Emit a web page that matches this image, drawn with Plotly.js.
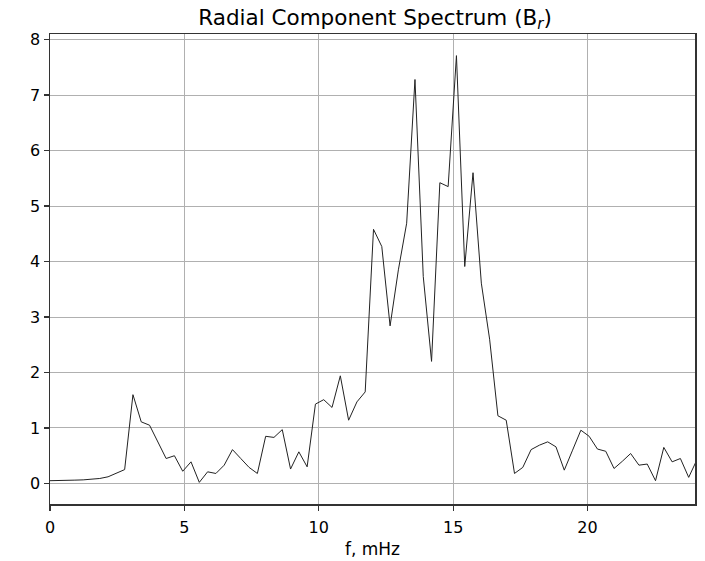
<!DOCTYPE html>
<html>
<head>
<meta charset="utf-8">
<script src="https://cdn.plot.ly/plotly-3.0.1.min.js"></script>
<style>html,body{margin:0;padding:0;background:#fff;}#chart{width:705px;height:561px;}</style>
</head>
<body>
<div id="chart"></div>
<script>
// Frequency step (mHz) and spectrum amplitude values
const freqStep = 1000 / 3240;
const amplitude = [
  0.05, 0.05, 0.055, 0.06, 0.065, 0.075, 0.09, 0.12, 0.18, 0.25,
  1.60, 1.11, 1.05, 0.75, 0.45, 0.50, 0.22, 0.39, 0.02, 0.21,
  0.18, 0.33, 0.61, 0.45, 0.29, 0.18, 0.85, 0.83, 0.97, 0.26,
  0.57, 0.30, 1.43, 1.51, 1.37, 1.94, 1.14, 1.47, 1.65, 4.58,
  4.27, 2.84, 3.85, 4.69, 7.28, 3.73, 2.20, 5.42, 5.35, 7.71,
  3.91, 5.60, 3.61, 2.60, 1.22, 1.14, 0.18, 0.29, 0.61, 0.69,
  0.75, 0.66, 0.24, 0.60, 0.96, 0.85, 0.62, 0.58, 0.27, 0.40,
  0.54, 0.33, 0.35, 0.05, 0.65, 0.39, 0.45, 0.11, 0.43
];
const freq = amplitude.map((_, i) => i * freqStep);
const xTicks = [0, 5, 10, 15, 20];
const yTicks = [0, 1, 2, 3, 4, 5, 6, 7, 8];

const font = {family: 'DejaVu Sans, sans-serif', color: '#000', size: 16};

const trace = {
  x: freq, y: amplitude, type: 'scatter', mode: 'lines',
  line: {color: '#222', width: 1}, hoverinfo: 'skip'
};

const axisCommon = {
  showline: true, mirror: true, linecolor: '#333', linewidth: 1.5,
  ticks: 'outside', ticklen: 5, tickwidth: 1.2, tickcolor: '#333',
  showgrid: true, gridcolor: '#b0b0b0', gridwidth: 1,
  zeroline: false, tickfont: font
};

const layout = {
  width: 705, height: 561,
  margin: {l: 50, r: 10, t: 34, b: 57},
  paper_bgcolor: '#fff', plot_bgcolor: '#fff',
  showlegend: false,
  font: font,
  title: {text: 'Radial Component Spectrum (B<sub><i>r</i></sub>)', font: {family: font.family, size: 21.5, color: '#000'}, x: 0.532, xanchor: 'center', y: 0.969, yanchor: 'middle'},
  xaxis: Object.assign({}, axisCommon, {range: [0, 24], tickvals: xTicks, ticktext: xTicks.map(String),
    ticklabelstandoff: 3,
    title: {text: 'f, mHz', font: {family: font.family, size: 17, color: '#000'}, standoff: 7}}),
  yaxis: Object.assign({}, axisCommon, {range: [-0.37, 8.1], tickvals: yTicks, ticktext: yTicks.map(String)})
};

Plotly.newPlot('chart', [trace], layout, {staticPlot: true, displayModeBar: false});
</script>
</body>
</html>
